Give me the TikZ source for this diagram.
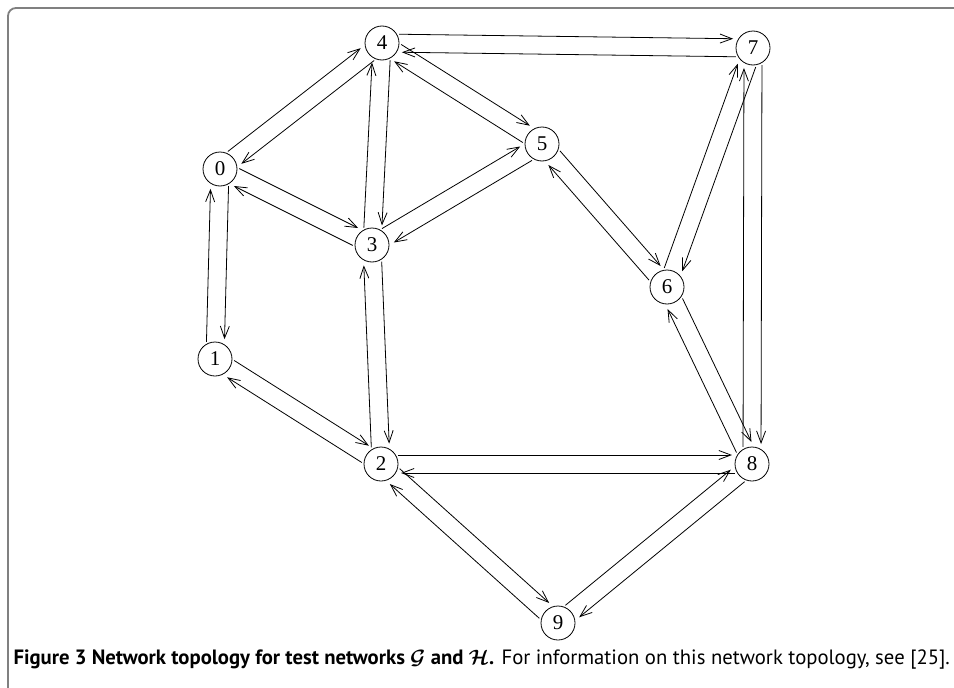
\documentclass[tikz,border=0pt]{standalone}
\usepackage{amsmath}
\usepackage{fontspec}
\setmainfont{PT Sans}
\newfontfamily\digitfont{Liberation Serif}
\usetikzlibrary{arrows.meta,calc}
\newcommand{\twoway}[2]{\draw[link] ($(#1)!9pt!90:(#2)$)--($(#2)!9pt!-90:(#1)$); \draw[link] ($(#2)!9pt!90:(#1)$)--($(#1)!9pt!-90:(#2)$);}

\begin{document}
\begin{tikzpicture}[x=1pt,y=-1pt,>={Straight Barb[length=12pt,width=9pt]},vertex/.style={circle,draw,line width=0.8pt,minimum size=34pt,inner sep=0pt,font=\digitfont\fontsize{21}{21}\selectfont},link/.style={->,line width=0.8pt,shorten <=17pt,shorten >=20pt},frame/.style={draw=black!50,line width=1.8pt,rounded corners=8pt},caption/.style={anchor=base west,font=\fontsize{20.7}{22}\selectfont}]
\useasboundingbox (0,0) rectangle (954,688);
\draw[frame] (8,688) |- (954,8);
\node[vertex] (n0) at (220,169) {0}; \node[vertex] (n1) at (215,359) {1}; \node[vertex] (n2) at (381,464) {2};
\node[vertex] (n3) at (372,245) {3}; \node[vertex] (n4) at (382,43) {4}; \node[vertex] (n5) at (542,144) {5};
\node[vertex] (n6) at (667,287) {6}; \node[vertex] (n7) at (753,48) {7}; \node[vertex] (n8) at (752,464) {8};
\node[vertex] (n9) at (558,623) {9};
\twoway{n0}{n4} \twoway{n0}{n3} \twoway{n0}{n1} \twoway{n4}{n3}
\twoway{n4}{n5} \twoway{n4}{n7} \twoway{n3}{n5} \twoway{n3}{n2}
\twoway{n1}{n2} \twoway{n5}{n6} \twoway{n6}{n7} \twoway{n7}{n8}
\twoway{n6}{n8} \twoway{n2}{n8} \twoway{n2}{n9} \twoway{n9}{n8}
\node[caption] (cap) at (10,664) {\textbf{Figure 3 Network topology for test networks $\boldsymbol{\mathcal{G}}$ and $\boldsymbol{\mathcal{H}}$.} For information on this network topology, see [25].};
\end{tikzpicture}
\end{document}
